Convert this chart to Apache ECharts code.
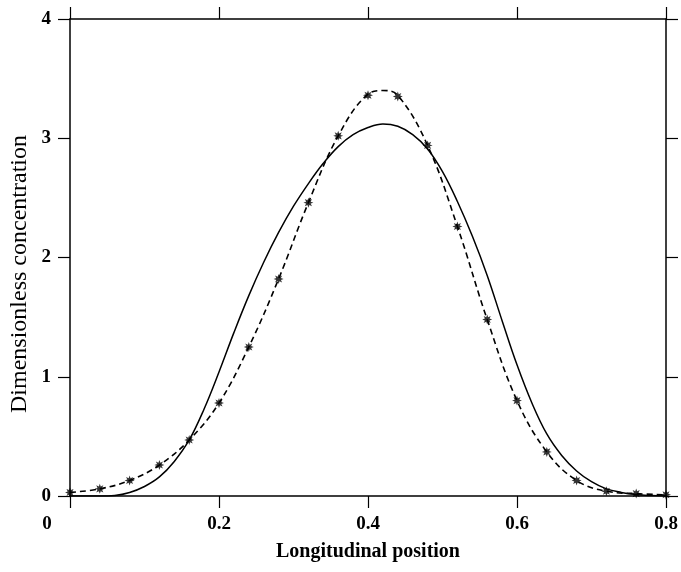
<!DOCTYPE html>
<html><head><meta charset="utf-8">
<script src="https://cdn.jsdelivr.net/npm/echarts@6/dist/echarts.min.js"></script>
<style>html,body{margin:0;padding:0;background:#fff}#c{width:681px;height:572px}</style>
</head><body><div id="c"></div>
<script>
// Measured points (asterisks)
const measX = [0,0.04,0.08,0.12,0.16,0.20,0.24,0.28,0.32,0.36,0.40,0.44,0.48,0.52,0.56,0.60,0.64,0.68,0.72,0.76,0.80];
const measY = [0.03,0.06,0.13,0.26,0.47,0.78,1.25,1.82,2.46,3.02,3.36,3.35,2.94,2.26,1.48,0.80,0.37,0.13,0.04,0.02,0.01];
// Dashed fitted curve
const dashX = [0,0.04,0.08,0.12,0.16,0.20,0.24,0.28,0.32,0.36,0.40,0.42,0.44,0.48,0.52,0.56,0.60,0.64,0.68,0.72,0.76,0.80];
const dashY = [0.03,0.06,0.13,0.26,0.47,0.78,1.25,1.82,2.46,3.02,3.37,3.40,3.36,2.94,2.26,1.48,0.80,0.37,0.13,0.04,0.02,0.01];
// Solid model curve
const solidX = [0,0.04,0.06,0.08,0.10,0.12,0.14,0.16,0.18,0.20,0.22,0.24,0.26,0.28,0.30,0.32,0.34,0.36,0.38,0.40,0.42,0.44,0.46,0.48,0.50,0.52,0.54,0.56,0.58,0.60,0.62,0.64,0.66,0.68,0.70,0.72,0.74,0.76,0.78,0.80];
const solidY = [0,0,0.005,0.03,0.08,0.16,0.29,0.47,0.73,1.04,1.37,1.68,1.96,2.21,2.43,2.62,2.79,2.93,3.03,3.09,3.12,3.10,3.03,2.91,2.72,2.47,2.18,1.85,1.47,1.10,0.78,0.52,0.34,0.21,0.12,0.06,0.03,0.012,0.004,0];
const xTicks = ['0','0.2','0.4','0.6','0.8'];
const yTicks = ['0','1','2','3','4'];
const xTitle = 'Longitudinal position';
const yTitle = 'Dimensionless concentration';

const zip = (a,b) => a.map((v,i)=>[v,b[i]]);
const star = 'path://M20,10L14.62,11.91L17.07,17.07L11.91,14.62L10,20L8.09,14.62L2.93,17.07L5.38,11.91L0,10L5.38,8.09L2.93,2.93L8.09,5.38L10,0L11.91,5.38L17.07,2.93L14.62,8.09Z';
const font = '"Liberation Serif","DejaVu Serif",serif';
const lab = {color:'#000', fontFamily:font, fontSize:19, fontWeight:'bold'};
const line = {onZero:false, lineStyle:{color:'#000', width:1.5}};
const tick = {show:true, inside:false, length:12, lineStyle:{color:'#000',width:1.2}};

const chart = echarts.init(document.getElementById('c'), null, {renderer:'canvas'});
chart.setOption({
  animation:false,
  backgroundColor:'#fff',
  grid:{left:70, right:15, top:19, bottom:76},
  graphic:[{
    type:'text', x:20, y:274, rotation:Math.PI/2,
    style:{text:yTitle, fill:'#000', font:'24px "Liberation Serif", serif', align:'center', verticalAlign:'middle'}
  }],
  xAxis:[{
    type:'value', min:0, max:0.8, interval:0.2, position:'bottom',
    axisLine:line, axisTick:tick, splitLine:{show:false},
    axisLabel:Object.assign({}, lab, {margin:19,
      formatter:v => { const i = Math.round(v/0.2); return i===0 ? '{z|'+xTicks[0]+'}' : xTicks[i]; },
      rich:{z:Object.assign({}, lab, {padding:[0,46,0,0]})}}),
    name:xTitle, nameLocation:'middle', nameGap:46,
    nameTextStyle:{color:'#000', fontFamily:font, fontSize:20, fontWeight:'bold'}
  },{
    type:'value', min:0, max:0.8, interval:0.2, position:'top',
    axisLine:line, axisTick:tick, splitLine:{show:false}, axisLabel:{show:false}
  }],
  yAxis:[{
    type:'value', min:0, max:4, interval:1, position:'left',
    axisLine:line, axisTick:tick, splitLine:{show:false},
    axisLabel:Object.assign({}, lab, {margin:19, formatter:v => yTicks[Math.round(v)]})
  },{
    type:'value', min:0, max:4, interval:1, position:'right',
    axisLine:line, axisTick:tick, splitLine:{show:false}, axisLabel:{show:false}
  }],
  series:[
    {type:'line', data:zip(solidX,solidY), smooth:0.4, showSymbol:false, symbol:'none',
     lineStyle:{color:'#000', width:1.5}, z:2},
    {type:'line', data:zip(dashX,dashY), smooth:0.4, showSymbol:false, symbol:'none',
     lineStyle:{color:'#000', width:1.6, type:[6,4]}, z:3},
    {type:'scatter', data:zip(measX,measY), symbol:star, symbolSize:10,
     itemStyle:{color:'#000'}, z:4}
  ]
});
</script></body></html>
